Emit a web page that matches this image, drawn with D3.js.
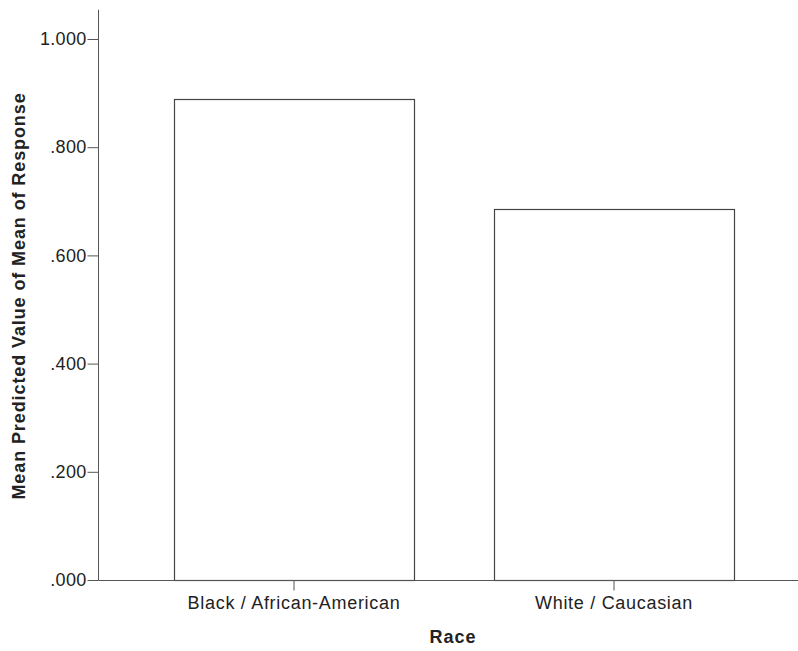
<!DOCTYPE html>
<html>
<head>
<meta charset="utf-8">
<script src="https://cdn.jsdelivr.net/npm/d3@7"></script>
<style>
  html, body { margin: 0; padding: 0; background: #fff; }
  svg { display: block; font-family: "Liberation Sans", Arial, sans-serif; }
</style>
</head>
<body>
<svg id="chart" width="798" height="651"></svg>
<script>
// Mean predicted value by race
const categories = ["Black / African-American", "White / Caucasian"];
const values = [0.890, 0.685];
const yTicks = [0, 0.2, 0.4, 0.6, 0.8, 1.0];
const xTitle = "Race";
const yTitle = "Mean Predicted Value of Mean of Response";

const svg = d3.select("#chart");
const axisColor = "#555";
const textColor = "#222";

const y = d3.scaleLinear().domain([0, 1]).range([580, 39]);
const yTop = 1.054;
const x = d3.scaleBand().domain(categories).range([134, 774])
  .paddingInner(0.25).paddingOuter(0.125);
const axisX = 98.5;

// bars
svg.append("g").selectAll("rect").data(values).join("rect")
  .attr("x", (d, i) => Math.round(x(categories[i])) + 0.5)
  .attr("y", d => Math.round(y(d)) + 0.5)
  .attr("width", x.bandwidth())
  .attr("height", d => Math.round(y(0)) - Math.round(y(d)))
  .attr("fill", "#fff")
  .attr("stroke", "#444")
  .attr("stroke-width", 1.2);

// y axis
const yAxis = d3.axisLeft(y).tickValues(yTicks).tickSize(11).tickPadding(1)
  .tickFormat(d => d3.format(".3f")(d).replace(/^0\./, "."));
const gy = svg.append("g").attr("transform", `translate(${axisX},0)`).call(yAxis);
gy.select(".domain").attr("d", `M0,${y(yTop)}V${y(0)}`).attr("stroke", axisColor);
gy.selectAll(".tick line").attr("stroke", axisColor);
gy.selectAll(".tick text").attr("fill", textColor).attr("font-size", 18)
  .attr("letter-spacing", 0.3);
gy.attr("font-family", null);

// x axis
const xAxis = d3.axisBottom(x).tickSize(10).tickPadding(6);
const gx = svg.append("g").attr("transform", `translate(0,${Math.round(y(0)) + 0.5})`).call(xAxis);
gx.select(".domain").attr("d", `M${axisX},0H798`).attr("stroke", axisColor);
gx.selectAll(".tick line").attr("stroke", axisColor);
gx.selectAll(".tick text").attr("fill", textColor).attr("font-size", 18)
  .attr("letter-spacing", 0.7);
gx.attr("font-family", null);

// titles
svg.append("text").attr("x", 453).attr("y", 643)
  .attr("text-anchor", "middle").attr("font-weight", "bold").attr("font-size", 18)
  .attr("letter-spacing", 1).attr("fill", textColor).text(xTitle);
svg.append("text").attr("transform", "translate(25,296) rotate(-90)")
  .attr("text-anchor", "middle").attr("font-weight", "bold").attr("font-size", 18)
  .attr("letter-spacing", 0.9).attr("fill", textColor).text(yTitle);
</script>
</body>
</html>
